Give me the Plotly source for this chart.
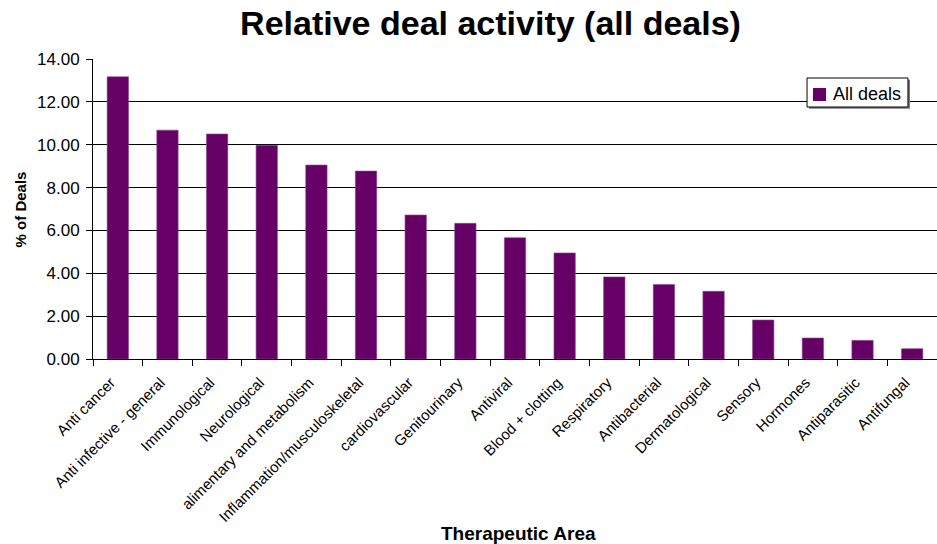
import plotly.graph_objects as go

# Share of deals by therapeutic area (%)
areas = [
    "Anti cancer", "Anti infective - general", "Immunological", "Neurological",
    "alimentary and metabolism", "Inflammation/musculoskeletal", "cardiovascular",
    "Genitourinary", "Antiviral", "Blood + clotting", "Respiratory", "Antibacterial",
    "Dermatological", "Sensory", "Hormones", "Antiparasitic", "Antifungal",
]
pct_deals = [13.17, 10.68, 10.50, 9.97, 9.05, 8.77, 6.72, 6.33, 5.66, 4.95,
             3.83, 3.48, 3.16, 1.82, 0.98, 0.87, 0.48]
y_ticks = [0, 2, 4, 6, 8, 10, 12, 14]
series_name = "All deals"

FONT = "Liberation Sans, Arial, sans-serif"
PURPLE = "#660066"

fig = go.Figure(
    go.Bar(
        x=areas,
        y=pct_deals,
        name=series_name,
        marker=dict(color=PURPLE, line=dict(color="#8a4a8a", width=0.6)),
        showlegend=False,
    )
)

fig.update_layout(
    width=937,
    height=544,
    margin=dict(l=93, r=0, t=59, b=185),
    paper_bgcolor="white",
    plot_bgcolor="white",
    font=dict(family=FONT, color="black"),
    bargap=0.57,
    title=dict(
        text="<b>Relative deal activity (all deals)</b>",
        font=dict(size=34, family=FONT, color="black"),
        x=0.5235, xref="container", xanchor="center",
        y=0.958, yref="container", yanchor="middle",
    ),
)

fig.update_xaxes(
    type="category",
    tickangle=-45,
    tickfont=dict(size=15, family=FONT),
    ticklabelshift=-7,
    ticklabelstandoff=8,
    showline=True, linecolor="black", linewidth=1,
    ticks="outside", tickson="boundaries", ticklen=6, tickcolor="black",
    showgrid=False,
)

fig.update_yaxes(
    range=[0, 14],
    tickvals=y_ticks,
    ticktext=[f"{v:.2f}" for v in y_ticks],
    tickfont=dict(size=17, family=FONT),
    ticklabelstandoff=3,
    showline=True, linecolor="black", linewidth=1,
    ticks="outside", ticklen=6, tickcolor="black",
    showgrid=True, gridcolor="black", gridwidth=1,
    zeroline=False,
)

# Legend box drawn in paper coordinates (top-right of the plot area)
fig.add_shape(type="rect", xref="paper", yref="paper",
              x0=0.8484, x1=0.9680, y0=0.834, y1=0.9307,
              line=dict(width=0), fillcolor="#777777", layer="above")
fig.add_shape(type="rect", xref="paper", yref="paper",
              x0=0.8460, x1=0.9656, y0=0.840, y1=0.9367,
              line=dict(color="black", width=1), fillcolor="white", layer="above")
fig.add_shape(type="rect", xref="paper", yref="paper",
              x0=0.8531, x1=0.8685, y0=0.860, y1=0.9033,
              line=dict(width=0), fillcolor=PURPLE, layer="above")
fig.add_annotation(
    text=series_name, xref="paper", yref="paper", x=0.8744, y=0.8817,
    xanchor="left", yanchor="middle", showarrow=False,
    font=dict(size=18, family=FONT),
)

fig.add_annotation(
    text="<b>% of Deals</b>", textangle=-90,
    xref="paper", yref="paper", x=-0.086, y=0.5,
    xanchor="center", yanchor="middle", showarrow=False,
    font=dict(size=15, family=FONT),
)
fig.add_annotation(
    text="<b>Therapeutic Area</b>",
    xref="paper", yref="paper", x=0.504, y=-0.58,
    xanchor="center", yanchor="middle", showarrow=False,
    font=dict(size=19, family=FONT),
)

fig.write_html("out.html")
